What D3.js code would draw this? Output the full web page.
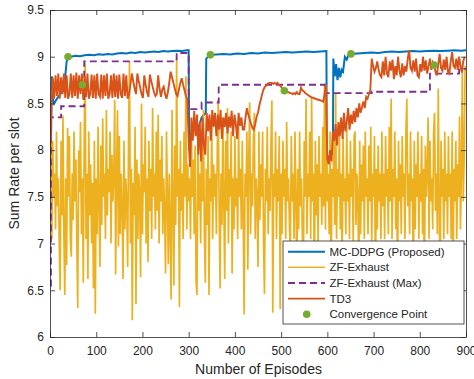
<!DOCTYPE html>
<html>
<head>
<meta charset="utf-8">
<script src="https://cdn.jsdelivr.net/npm/d3@7"></script>
<style>
  body { margin: 0; background: #fff; }
  svg { display: block; }
  text { font-family: "Liberation Sans", Arial, Helvetica, sans-serif; fill: #262626; }
</style>
</head>
<body>
<div id="chart"></div>
<script>
// episodes between samples of the sampled series
const zfStep = 2;
const td3Step = 3;

// ZF-Exhaust, one value every 2 episodes (0..898)
const zfExhaust = [
  7.6, 8.15, 7.05, 8.1, 7.5, 7.75, 7.15, 8.2, 7.4, 7.7,
  7.0, 6.5, 8.1, 7.3, 8.37, 7.1, 6.45, 7.7, 6.77, 8.24,
  7.5, 8.15, 7.05, 6.86, 7.75, 7.25, 8.2, 7.45, 7.9, 7.0,
  6.31, 8.0, 7.55, 8.3, 7.1, 7.7, 6.58, 8.15, 8.93, 7.05,
  7.75, 6.62, 8.2, 7.3, 7.85, 7.0, 7.65, 6.52, 8.1, 6.25,
  7.7, 7.1, 8.25, 7.45, 6.75, 8.05, 7.2, 8.34, 7.5, 7.75,
  7.05, 8.43, 7.3, 7.8, 7.55, 8.2, 7.0, 7.95, 7.45, 7.7,
  8.54, 6.67, 7.75, 8.43, 6.97, 8.15, 7.1, 7.75, 7.4, 6.62,
  8.1, 7.15, 7.7, 7.45, 6.75, 8.2, 8.95, 7.0, 7.8, 6.18,
  7.65, 7.3, 8.25, 6.35, 7.9, 7.05, 7.75, 7.5, 6.64, 8.5,
  7.1, 7.85, 7.55, 8.25, 7.0, 7.7, 6.8, 8.1, 7.35, 7.8,
  7.05, 8.45, 7.5, 7.75, 7.15, 8.2, 7.35, 8.38, 7.0, 7.9,
  7.45, 8.15, 7.1, 7.7, 7.3, 6.68, 8.2, 7.5, 6.78, 7.75,
  7.15, 6.4, 8.43, 7.45, 6.55, 8.05, 7.2, 8.98, 7.5, 7.8,
  6.32, 8.1, 7.35, 7.75, 7.05, 8.2, 7.5, 8.79, 7.15, 7.85,
  7.45, 7.7, 7.05, 8.18, 7.5, 7.9, 7.1, 8.05, 6.6, 6.45,
  8.15, 7.35, 7.75, 7.0, 8.2, 7.45, 8.43, 7.1, 6.58, 7.8,
  7.2, 8.15, 6.45, 7.7, 7.45, 8.25, 7.05, 7.85, 7.5, 7.75,
  7.1, 8.05, 8.54, 7.35, 6.52, 7.75, 7.2, 8.35, 7.45, 6.62,
  8.1, 7.35, 8.45, 7.0, 7.8, 7.5, 8.2, 6.68, 7.7, 7.15,
  8.15, 7.4, 7.7, 7.05, 8.25, 7.5, 7.8, 7.15, 8.1, 7.3,
  6.24, 7.75, 7.5, 8.2, 6.72, 7.9, 8.51, 7.1, 7.75, 7.4,
  8.1, 8.4, 7.05, 7.7, 7.5, 6.75, 8.2, 7.25, 7.85, 7.5,
  8.2, 7.0, 6.46, 7.8, 7.45, 8.25, 7.1, 7.7, 7.35, 8.05,
  8.53, 6.26, 7.75, 7.5, 8.2, 7.05, 7.8, 7.45, 8.15, 6.3,
  7.75, 7.1, 8.1, 7.5, 7.8, 7.05, 8.3, 7.45, 7.7, 7.2,
  6.9, 8.15, 7.45, 7.75, 7.05, 8.2, 7.5, 6.6, 7.8, 7.15,
  8.2, 7.4, 7.7, 7.05, 6.45, 8.1, 7.5, 8.55, 7.1, 7.75,
  7.5, 8.2, 7.05, 8.57, 7.45, 7.75, 6.5, 8.1, 7.3, 7.85,
  7.0, 8.15, 7.5, 7.75, 7.2, 8.25, 7.4, 8.71, 7.15, 8.7,
  7.45, 7.75, 7.1, 8.2, 6.4, 7.8, 7.5, 8.1, 7.2, 8.61,
  7.05, 7.8, 7.5, 8.2, 7.15, 7.75, 6.65, 8.15, 7.45, 7.7,
  7.1, 8.25, 7.45, 7.75, 7.05, 8.1, 7.5, 7.8, 7.0, 8.15,
  8.2, 7.2, 7.75, 7.5, 6.6, 8.1, 7.1, 7.85, 7.45, 8.05,
  7.05, 8.2, 7.5, 7.7, 7.1, 8.05, 7.45, 8.25, 7.0, 7.75,
  7.5, 8.15, 6.5, 7.8, 7.15, 8.05, 7.45, 7.75, 7.05, 8.2,
  7.4, 7.75, 7.05, 8.15, 7.5, 7.8, 7.1, 8.25, 7.45, 8.55,
  7.05, 7.8, 7.5, 8.2, 7.15, 7.7, 6.55, 8.1, 7.45, 7.85,
  7.1, 8.15, 7.5, 7.75, 7.05, 8.2, 8.55, 7.4, 7.75, 7.1,
  8.2, 7.45, 7.7, 6.4, 8.1, 7.15, 7.85, 7.5, 8.2, 7.05,
  7.75, 7.45, 8.15, 7.1, 7.8, 6.4, 8.05, 7.5, 7.75, 8.35,
  7.05, 8.1, 7.45, 7.7, 7.15, 8.2, 8.4, 7.35, 7.75, 7.1,
  8.66, 7.4, 6.45, 8.1, 7.5, 7.8, 7.05, 8.2, 7.45, 7.75,
  7.1, 8.15, 7.5, 7.75, 7.05, 8.2, 6.6, 7.8, 7.45, 8.1,
  7.05, 7.85, 7.5, 8.36, 7.15, 7.75, 8.84, 7.45, 7.9, 8.9
];

// TD3, one value every 3 episodes (0..897)
const td3 = [
  7.9, 8.45, 8.78, 8.55, 8.8, 8.58, 8.82, 8.55, 8.78, 8.6,
  8.82, 8.56, 8.8, 8.55, 8.6, 8.82, 8.56, 8.8, 8.58, 8.83,
  8.55, 8.8, 8.6, 8.82, 8.54, 8.79, 8.57, 8.82, 8.55, 8.6,
  8.81, 8.56, 8.8, 8.55, 8.82, 8.6, 8.57, 8.81, 8.55, 8.8,
  8.58, 8.82, 8.55, 8.6, 8.8, 8.56, 8.82, 8.57, 8.8, 8.55,
  8.81, 8.6, 8.56, 8.82, 8.58, 8.8, 8.55, 8.6, 8.7, 8.82,
  8.74, 8.66, 8.6, 8.82, 8.74, 8.67, 8.6, 8.56, 8.8, 8.7,
  8.62, 8.57, 8.81, 8.74, 8.68, 8.62, 8.58, 8.6, 8.8, 8.66,
  8.57, 8.65, 8.68, 8.6, 8.55, 8.62, 8.72, 8.84, 8.78, 8.72,
  8.66, 8.6, 8.58, 8.65, 8.72, 8.77, 8.7, 8.64, 8.58, 8.55,
  8.1, 7.82, 8.35, 8.1, 8.42, 8.15, 8.38, 7.95, 8.3, 7.88,
  8.35, 8.05, 7.95, 8.4, 8.2, 8.38, 8.1, 8.43, 8.25, 8.4,
  8.15, 8.38, 8.22, 8.43, 8.12, 8.35, 8.25, 8.4, 8.18, 8.36,
  8.24, 8.42, 8.15, 8.38, 8.28, 8.12, 8.4, 8.26, 8.35, 8.22,
  8.22, 8.35, 8.45, 8.38, 8.33, 8.28, 8.24, 8.22, 8.28, 8.36,
  8.4, 8.48, 8.54, 8.6, 8.65, 8.68, 8.69, 8.71, 8.72, 8.72,
  8.72, 8.71, 8.72, 8.71, 8.72, 8.7, 8.69, 8.67, 8.65, 8.63,
  8.63, 8.62, 8.62, 8.61, 8.61, 8.6, 8.61, 8.6, 8.62, 8.6,
  8.6, 8.67, 8.64, 8.63, 8.61, 8.6, 8.59, 8.58, 8.57, 8.56,
  8.56, 8.55, 8.55, 8.54, 8.54, 8.53, 8.53, 8.52, 8.6, 8.7,
  7.9, 7.85, 8.0, 7.88, 8.2, 8.1, 8.28, 8.05, 8.3, 8.15,
  8.35, 8.12, 8.4, 8.2, 8.3, 8.45, 8.22, 8.38, 8.28, 8.42,
  8.3, 8.45, 8.35, 8.5, 8.4, 8.46, 8.52, 8.45, 8.57, 8.55,
  8.6, 8.64, 8.98, 8.9, 8.84, 8.88, 8.95, 8.86, 8.8, 8.78,
  8.95, 8.8, 9.0, 8.82, 8.78, 8.95, 8.85, 8.97, 8.76, 8.9,
  8.8, 9.0, 8.85, 8.78, 8.93, 8.8, 8.9, 8.84, 8.98, 9.07,
  8.88, 8.85, 8.96, 8.84, 8.98, 8.8, 8.78, 8.92, 8.84, 9.0,
  8.85, 8.96, 8.82, 8.9, 8.98, 8.86, 8.94, 8.91, 8.84, 8.8,
  8.92, 9.03, 8.88, 8.85, 8.97, 8.86, 9.0, 8.84, 8.82, 8.95,
  9.05, 8.9, 8.88, 8.98, 8.86, 9.0, 8.9, 8.83, 8.95, 9.0
];

// ZF-Exhaust (Max): [episode where level starts, level]
const zfMax = [
  [0, 6.55], [2, 8.35], [24, 8.47], [74, 8.95], [274, 9.04], [300, 8.44],
  [328, 8.51], [365, 8.70], [595, 8.61], [696, 8.625], [822, 8.82], [885, 8.87], [900, 8.87]
];

// MC-DDPG (Proposed): [episode, value]
const ddpg = [
  [0, 7.98], [2, 8.0], [4, 8.79], [6, 8.55], [9, 8.5], [15, 8.55], [22, 8.6], [30, 8.64],
  [36, 8.95], [39, 9.0], [45, 9.0], [55, 9.01], [65, 9.005], [75, 9.015], [85, 9.02],
  [95, 9.015], [105, 9.025], [115, 9.02], [125, 9.03], [135, 9.025], [145, 9.035],
  [155, 9.04], [165, 9.035], [175, 9.045], [185, 9.04], [195, 9.05], [205, 9.045],
  [215, 9.05], [225, 9.055], [235, 9.05], [245, 9.06], [255, 9.055], [265, 9.06],
  [275, 9.065], [285, 9.06], [295, 9.07], [300, 9.07], [301, 8.0], [305, 8.15],
  [312, 8.3], [320, 8.22], [328, 8.35], [337, 8.4], [338, 8.98], [347, 9.02],
  [360, 9.025], [375, 9.03], [390, 9.025], [405, 9.035], [420, 9.03], [435, 9.04],
  [450, 9.035], [465, 9.045], [480, 9.04], [495, 9.045], [510, 9.05], [525, 9.045],
  [540, 9.05], [555, 9.055], [570, 9.05], [585, 9.055], [598, 9.06], [599, 7.95],
  [606, 7.9], [612, 8.0], [613, 8.98], [616, 8.79], [619, 8.92], [622, 8.75],
  [625, 8.88], [628, 8.78], [631, 8.86], [634, 8.84], [638, 9.0], [642, 8.97],
  [646, 9.02], [651, 9.03], [665, 9.035], [680, 9.04], [695, 9.045], [710, 9.04],
  [725, 9.05], [740, 9.055], [755, 9.05], [770, 9.055], [785, 9.06], [800, 9.055],
  [815, 9.06], [830, 9.065], [845, 9.06], [860, 9.065], [875, 9.07], [890, 9.065], [900, 9.07]
];

// convergence points
const convEp = [39, 70, 347, 507, 651, 831];
const convVal = [9.0, 8.70, 9.02, 8.635, 9.03, 8.91];

const xTicks = [0, 100, 200, 300, 400, 500, 600, 700, 800, 900];
const yTicks = [6, 6.5, 7, 7.5, 8, 8.5, 9, 9.5];
const legendLabels = ["MC-DDPG (Proposed)", "ZF-Exhaust", "ZF-Exhaust (Max)", "TD3", "Convergence Point"];

const colors = { ddpg: "#0072BD", zf: "#EDB120", zfMax: "#7E2F8E", td3: "#D95319", conv: "#77AC30" };

const margin = { top: 10, right: 8, bottom: 42, left: 50 },
    width = 474 - margin.left - margin.right,
    height = 379 - margin.top - margin.bottom;

const svg = d3.select("#chart")
    .append("svg")
    .attr("width", 474)
    .attr("height", 379)
    .append("g")
    .attr("transform", `translate(${margin.left},${margin.top})`);

const x = d3.scaleLinear().domain([0, 900]).range([0, width]);
const y = d3.scaleLinear().domain([6, 9.5]).range([height, 0]);

svg.append("clipPath").attr("id", "plotArea")
    .append("rect").attr("width", width).attr("height", height);

const plot = svg.append("g").attr("clip-path", "url(#plotArea)");

const sampledLine = step => d3.line().x((d, i) => x(i * step)).y(d => y(d));
const paired = d3.line().x(d => x(d[0])).y(d => y(d[1]));

// series, drawn in legend order
plot.append("path").datum(ddpg).attr("d", paired)
    .attr("fill", "none").attr("stroke", colors.ddpg).attr("stroke-width", 2);

plot.append("path").datum(zfExhaust).attr("d", sampledLine(zfStep))
    .attr("fill", "none").attr("stroke", colors.zf).attr("stroke-width", 1.7)
    .attr("stroke-linejoin", "bevel");

plot.append("path").datum(zfMax).attr("d", paired.curve(d3.curveStepAfter))
    .attr("fill", "none").attr("stroke", colors.zfMax).attr("stroke-width", 1.8)
    .attr("stroke-dasharray", "7,4");

plot.append("path").datum(td3).attr("d", sampledLine(td3Step))
    .attr("fill", "none").attr("stroke", colors.td3).attr("stroke-width", 1.9);

plot.selectAll("circle.conv")
    .data(convEp)
    .enter()
    .append("circle")
    .attr("class", "conv")
    .attr("cx", d => x(d))
    .attr("cy", (d, i) => y(convVal[i]))
    .attr("r", 3.8)
    .attr("fill", colors.conv);

// axes, MATLAB style box with inward ticks
const axisColor = "#262626";
function styleAxis(g) {
    g.selectAll("path.domain").attr("stroke", axisColor).attr("stroke-width", 0.8);
    g.selectAll(".tick line").attr("stroke", axisColor).attr("stroke-width", 0.8);
    g.selectAll(".tick text").attr("fill", axisColor).style("font-size", "12px")
        .style("font-family", '"Liberation Sans", Arial, sans-serif');
}

svg.append("g").attr("transform", `translate(0,${height})`)
    .call(d3.axisBottom(x).tickValues(xTicks).tickSizeInner(-5).tickSizeOuter(0).tickPadding(9))
    .call(styleAxis);

svg.append("g")
    .call(d3.axisTop(x).tickValues(xTicks).tickSizeInner(-5).tickSizeOuter(0).tickFormat(""))
    .call(styleAxis);

svg.append("g")
    .call(d3.axisLeft(y).tickValues(yTicks).tickSizeInner(-5).tickSizeOuter(0).tickPadding(6).tickFormat(d3.format("")))
    .call(styleAxis);

svg.append("g").attr("transform", `translate(${width},0)`)
    .call(d3.axisRight(y).tickValues(yTicks).tickSizeInner(-5).tickSizeOuter(0).tickFormat(""))
    .call(styleAxis);

// axis labels
svg.append("text")
    .attr("x", width / 2 + 0.5)
    .attr("y", 373.5 - margin.top)
    .attr("text-anchor", "middle")
    .style("font-size", "14px")
    .text("Number of Episodes");

svg.append("text")
    .attr("transform", "rotate(-90)")
    .attr("x", -height / 2)
    .attr("y", -31)
    .attr("text-anchor", "middle")
    .style("font-size", "14px")
    .text("Sum Rate per slot");

// legend
const legend = svg.append("g").attr("transform", `translate(${283 - margin.left},${241 - margin.top})`);
legend.append("rect")
    .attr("width", 181).attr("height", 83)
    .attr("fill", "#fff").attr("stroke", axisColor).attr("stroke-width", 0.8);

const legendStyles = [
    { color: colors.ddpg, dash: null, width: 2 },
    { color: colors.zf, dash: null, width: 1.5 },
    { color: colors.zfMax, dash: "7,4", width: 1.8 },
    { color: colors.td3, dash: null, width: 1.8 },
    { color: colors.conv, marker: true }
];

legendLabels.forEach((label, i) => {
    const cy = 10.7 + i * 15.65;
    const s = legendStyles[i];
    if (s.marker) {
        legend.append("circle").attr("cx", 23.7).attr("cy", cy).attr("r", 3.8).attr("fill", s.color);
    } else {
        legend.append("line")
            .attr("x1", 5).attr("x2", 42).attr("y1", cy).attr("y2", cy)
            .attr("stroke", s.color).attr("stroke-width", s.width)
            .attr("stroke-dasharray", s.dash);
    }
    legend.append("text")
        .attr("x", 46.5).attr("y", cy).attr("dy", "0.35em")
        .style("font-size", "11.5px")
        .text(label);
});
</script>
</body>
</html>
